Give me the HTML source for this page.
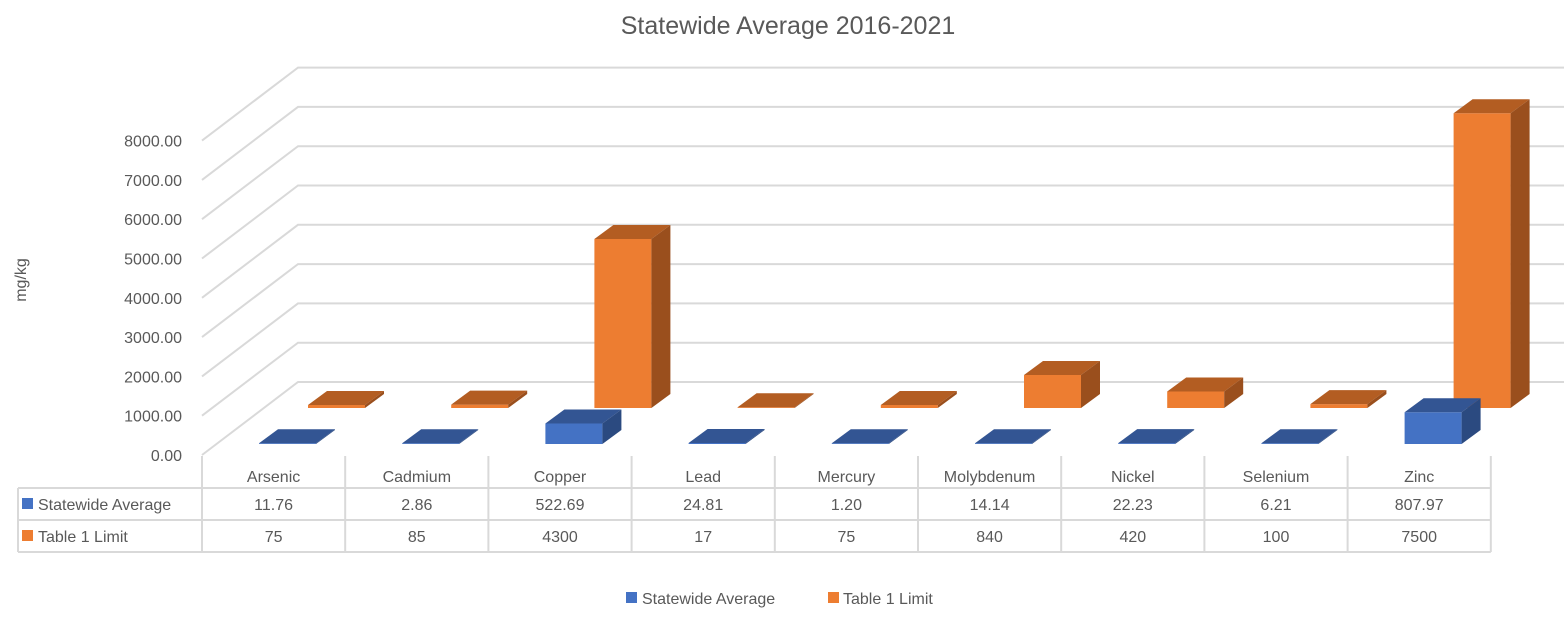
<!DOCTYPE html>
<html><head><meta charset="utf-8"><style>
body{margin:0;background:#fff;}
svg text{font-family:"Liberation Sans",sans-serif;fill:#595959;}
</style></head><body>
<svg id="chart" width="1564" height="620" xmlns="http://www.w3.org/2000/svg">
<text x="788" y="34" text-anchor="middle" font-size="25">Statewide Average 2016-2021</text>
<text x="0" y="0" transform="translate(26,280) rotate(-90)" text-anchor="middle" font-size="16">mg/kg</text>
<g id="grid"></g>
<g id="bars"></g>
<g id="table"></g>
<g>
<rect x="626" y="592" width="11" height="11" fill="#4472C4"/>
<text x="642" y="604" font-size="16">Statewide Average</text>
<rect x="828" y="592" width="11" height="11" fill="#ED7D31"/>
<text x="843" y="604" font-size="16">Table 1 Limit</text>
</g>
</svg>
<script>
const categories=["Arsenic","Cadmium","Copper","Lead","Mercury","Molybdenum","Nickel","Selenium","Zinc"];
const statewide=[11.76,2.86,522.69,24.81,1.20,14.14,22.23,6.21,807.97];
const limit=[75,85,4300,17,75,840,420,100,7500];
const statewideLabels=["11.76","2.86","522.69","24.81","1.20","14.14","22.23","6.21","807.97"];
const limitLabels=["75","85","4300","17","75","840","420","100","7500"];
const yTicks=[0,1000,2000,3000,4000,5000,6000,7000,8000];

const NS="http://www.w3.org/2000/svg";
function mk(tag,attrs,parent){const e=document.createElementNS(NS,tag);for(const k in attrs)e.setAttribute(k,attrs[k]);parent.appendChild(e);return e;}
const X0=202,COLW=143.2,FRONT0=455,BACK0=382,DX=96,PX=39.3/1000;
const yF=v=>FRONT0-v*PX;
const grid=document.getElementById('grid');
yTicks.forEach((t,i)=>{
  let l=mk('polyline',{points:`${X0},${yF(t)} ${X0+DX},${BACK0-t*PX} 1564,${BACK0-t*PX}`,fill:'none',stroke:'#d9d9d9','stroke-width':2},grid);
  
  let tx=mk('text',{x:182,y:yF(t)+6,'text-anchor':'end','font-size':16},grid);
  
  tx.textContent=t.toFixed(2);
});
const bars=document.getElementById('bars');
const BW=57,BDX=19,BDY=14;
function bar(cx,base,v,c,name){
  const h=Math.max(v*PX,0.8);
  const x=cx,y=base-h;
  const g=mk('g',{},bars);
  mk('polygon',{points:`${x},${y} ${x+BW},${y} ${x+BW},${base}  ${x},${base}`,fill:c[0]},g);
  mk('polygon',{points:`${x},${y} ${x+BDX},${y-BDY} ${x+BW+BDX},${y-BDY} ${x+BW},${y}`,fill:c[1]},g);
  mk('polygon',{points:`${x+BW},${y} ${x+BW+BDX},${y-BDY} ${x+BW+BDX},${base-BDY} ${x+BW},${base}`,fill:c[2]},g);
}
categories.forEach((c,i)=>{bar(X0+i*COLW+106,408,limit[i],['#ED7D31','#B35D22','#9A4F1D'],'bar-limit-'+c.toLowerCase());});
categories.forEach((c,i)=>{bar(X0+i*COLW+57,444,statewide[i],['#4472C4','#335593','#2B4A80'],'bar-statewide-'+c.toLowerCase());});
const tb=document.getElementById('table');
const L=(x1,y1,x2,y2)=>{const e=mk('line',{x1,y1,x2,y2,stroke:'#d9d9d9','stroke-width':2},tb);};
const XR=X0+categories.length*COLW;
[488,520,552].forEach(y=>L(18,y,XR,y));
L(18,488,18,552);
for(let i=0;i<=categories.length;i++)L(X0+i*COLW,456,X0+i*COLW,552);
function txt(x,y,s,name,anchor){const e=mk('text',{x,y,'text-anchor':anchor||'middle','font-size':16},tb);e.textContent=s;}
categories.forEach((c,i)=>{const cx=X0+i*COLW+COLW/2;
  txt(cx,482,c,'category-label');txt(cx,510,statewideLabels[i],'statewide-value');txt(cx,542,limitLabels[i],'limit-value');});
mk('rect',{x:22,y:498,width:11,height:11,fill:'#4472C4'},tb);
mk('rect',{x:22,y:530,width:11,height:11,fill:'#ED7D31'},tb);
txt(38,510,'Statewide Average','row-label-statewide','start');
txt(38,542,'Table 1 Limit','row-label-limit','start');
</script>
</body></html>
